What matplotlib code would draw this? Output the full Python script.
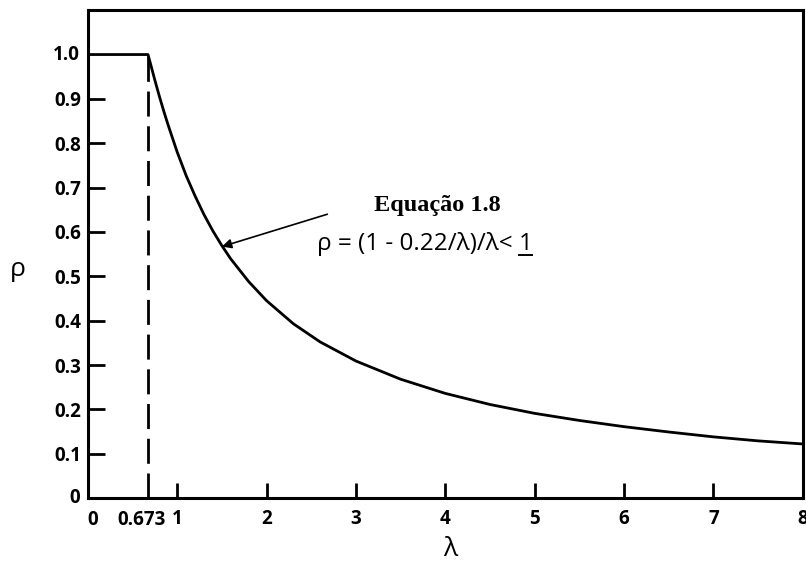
import matplotlib
matplotlib.use("Agg")
import matplotlib.pyplot as plt
from matplotlib.lines import Line2D

# values
lam = [0.0, 0.673, 0.7, 0.75, 0.8, 0.85, 0.9, 1.0, 1.1, 1.2, 1.3, 1.4, 1.5,
       1.6, 1.8, 2.0, 2.3, 2.6, 3.0, 3.5, 4.0, 4.5, 5.0, 5.5, 6.0, 6.5, 7.0,
       7.5, 8.0]
rho = [1.0, 1.0, 0.980, 0.942, 0.906, 0.872, 0.840, 0.78, 0.727, 0.681,
       0.639, 0.602, 0.569, 0.539, 0.488, 0.445, 0.393, 0.352, 0.309, 0.268,
       0.236, 0.211, 0.191, 0.175, 0.161, 0.149, 0.138, 0.129, 0.122]
lam_limit = 0.673
y_ticks = [0.1, 0.2, 0.3, 0.4, 0.5, 0.6, 0.7, 0.8, 0.9]
y_labels = ["0.1", "0.2", "0.3", "0.4", "0.5", "0.6", "0.7", "0.8", "0.9"]
x_ticks = [1, 2, 3, 4, 5, 6, 7, 8]

fig = plt.figure(figsize=(8.06, 5.66), dpi=100)
ax = fig.add_axes([0.109, 0.12, 0.887, 0.862])

ax.plot(lam, rho, color='black', lw=2.0, solid_joinstyle='round')
ax.plot([lam_limit, lam_limit], [0, 1.0], color='black', lw=2.0,
        dashes=(9, 3.5))

ax.set_xlim(0, 8)
ax.set_ylim(0, 1.1)
for s in ax.spines.values():
    s.set_linewidth(2.2)

ax.set_yticks(y_ticks)
ax.set_yticklabels(y_labels)
ax.set_xticks(x_ticks)
ax.set_xticklabels([str(t) for t in x_ticks])
ax.tick_params(axis='both', direction='in', width=2, labelsize=13.5)
ax.tick_params(axis='y', length=12, pad=5)
ax.tick_params(axis='x', length=11, pad=8)
for lbl in ax.get_xticklabels() + ax.get_yticklabels():
    lbl.set_fontfamily('Open Sans')
    lbl.set_fontweight('bold')

# extra labels that sit on the axes without tick marks
lab_kw = dict(fontfamily='Open Sans', fontweight='bold', fontsize=13.5)
ax.text(-0.09, 1.0, "1.0", ha='right', va='center', **lab_kw)
ax.text(-0.09, 0.0, "0", ha='right', va='center', **lab_kw)
ax.text(0.05, -0.028, "0", ha='center', va='top', **lab_kw)
ax.text(0.60, -0.028, "0.673", ha='center', va='top', **lab_kw)

ax.text(-0.78, 0.515, "ρ", ha='center', va='center', fontsize=19,
        fontfamily='Open Sans')
ax.text(4.05, -0.115, "λ", ha='center', va='center', fontsize=19,
        fontfamily='Open Sans')

ax.annotate("", xy=(1.50, 0.567), xytext=(2.68, 0.64),
            arrowprops=dict(arrowstyle='-|>', color='black', lw=1.2,
                            mutation_scale=14, shrinkA=0, shrinkB=0))
ax.text(3.91, 0.66, "Equação 1.8", ha='center', va='center', fontsize=17.5,
        fontfamily='Liberation Serif', fontweight='bold')

# equation, with the final "1" underlined (< 1 read as "less or equal")
eq = ax.text(2.56, 0.572, "ρ = (1 - 0.22/λ)/λ< ", ha='left', va='center',
             fontsize=17.5, fontfamily='Open Sans')
fig.canvas.draw()
r = fig.canvas.get_renderer()
bb = eq.get_window_extent(r)
one = fig.text(bb.x1 / fig.bbox.width, (bb.y0 + bb.y1) / 2 / fig.bbox.height,
               "1", ha='left', va='center', fontsize=17.5,
               fontfamily='Open Sans')
bb1 = one.get_window_extent(r)
uy = (bb1.y0 + 1) / fig.bbox.height
fig.add_artist(Line2D([bb1.x0 / fig.bbox.width, bb1.x1 / fig.bbox.width],
                      [uy, uy], color='black', lw=1.4))

fig.savefig("out.png", dpi=100)
